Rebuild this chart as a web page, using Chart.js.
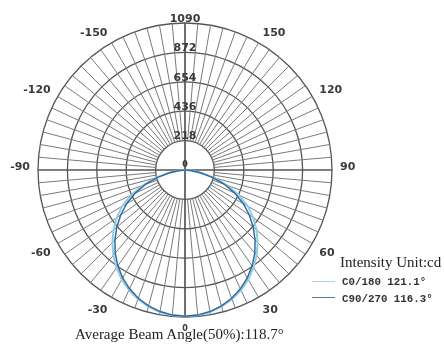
<!DOCTYPE html>
<html><head><meta charset="utf-8">
<script src="https://cdn.jsdelivr.net/npm/chart.js@4.4.0/dist/chart.umd.min.js"></script>
<style>
html,body{margin:0;padding:0;background:#fff;}
#wrap{position:relative;width:444px;height:347px;overflow:hidden;background:#fff;}
#c{position:absolute;left:0;top:0;}
.t{position:absolute;white-space:nowrap;}
.serif{font-family:"Liberation Serif","Times New Roman",serif;color:#222;}
.mono{font-family:"Liberation Mono","Courier New",monospace;font-weight:bold;font-size:10.8px;line-height:11px;color:#333;}
.sw{position:absolute;height:0;width:23px;}
</style></head><body>
<div id="wrap">
<canvas id="c" width="444" height="347"></canvas>
<div class="t serif" id="unit" style="left:340px;top:255px;font-size:15px;line-height:15px;"></div>
<div class="sw" id="sw0" style="left:312px;top:281px;border-top:1.5px solid #a9d6ea;"></div>
<div class="sw" id="sw1" style="left:312px;top:297px;border-top:1.5px solid #4f8199;"></div>
<div class="t mono" id="lg0" style="left:342px;top:277px;"></div>
<div class="t mono" id="lg1" style="left:342px;top:294px;"></div>
<div class="t serif" id="cap" style="left:75px;top:327px;font-size:15px;line-height:15px;"></div>
</div>
<script>
// ---- data ----
const gammaAngles = [0, 5, 10, 15, 20, 25, 30, 35, 40, 45, 50, 55, 60, 65, 70, 75, 80, 85, 90];
const c0_180  = [1085, 1081, 1069, 1048, 1019, 983, 938, 885, 826, 762, 692, 618, 540, 440, 335, 225, 125, 48, 4];
const c90_270 = [1085, 1080, 1066, 1043, 1012, 972, 924, 868, 805, 735, 660, 582, 500, 408, 312, 210, 115, 42, 3];
const ringValues = [218, 436, 654, 872, 1090];
const angleTickLabels = [-150, -120, -90, -60, -30, 0, 30, 60, 90, 120, 150];
const seriesNames = ['C0/180 121.1°', 'C90/270 116.3°'];
const unitLabel = 'Intensity Unit:cd';
const captionText = 'Average Beam Angle(50%):118.7°';

// radar categories: every 5°, 180 at top, going clockwise (right side = +90, bottom = 0, left = -90)
const polarCategories = [];
for (let k = 0; k < 72; k++) { polarCategories.push(180 - 5 * k); }

function seriesOnCategories(vals) {
  return polarCategories.map(a => {
    const idx = gammaAngles.indexOf(Math.abs(a));
    return idx >= 0 ? vals[idx] : 0;
  });
}

document.getElementById('unit').textContent = unitLabel;
document.getElementById('lg0').textContent = seriesNames[0];
document.getElementById('lg1').textContent = seriesNames[1];
document.getElementById('cap').textContent = captionText;

const polarDecor = {
  id: 'polarDecor',
  beforeDatasetsDraw(chart) {
    const s = chart.scales.r, ctx = chart.ctx;
    const labels = chart.data.labels;
    const rIn = s.getDistanceFromCenterForValue(ringValues[0]);
    const rOut = s.getDistanceFromCenterForValue(ringValues[ringValues.length - 1]);
    ctx.save();
    for (let i = 0; i < labels.length; i++) {
      const a = labels[i];
      const axis = (a % 90 === 0);
      const p2 = s.getPointPosition(i, rOut);
      const p1 = axis ? {x: s.xCenter, y: s.yCenter} : s.getPointPosition(i, rIn);
      ctx.lineWidth = axis ? 1.7 : 1;
      ctx.strokeStyle = axis ? '#555' : '#7a7a7a';
      ctx.beginPath(); ctx.moveTo(p1.x, p1.y); ctx.lineTo(p2.x, p2.y); ctx.stroke();
    }
    ctx.fillStyle = '#3a3a3a';
    angleTickLabels.forEach(a => {
      const i = labels.indexOf(a);
      const p = s.getPointPosition(i, rOut + 8);
      const dx = p.x - s.xCenter, dy = p.y - s.yCenter;
      ctx.font = (a === 0 ? 'bold 8px' : 'bold 11px') + ' "DejaVu Sans"';
      ctx.textAlign = dx > 1 ? 'left' : (dx < -1 ? 'right' : 'center');
      ctx.textBaseline = dy > 1 ? 'top' : 'alphabetic';
      ctx.fillText(String(a), p.x, p.y);
    });
    ctx.font = 'bold 11px "DejaVu Sans"';
    ctx.textAlign = 'center'; ctx.textBaseline = 'middle';
    ringValues.forEach(v => {
      const d = s.getDistanceFromCenterForValue(v);
      ctx.fillText(String(v), s.xCenter, s.yCenter - d - 4);
    });
    ctx.font = 'bold 8px "DejaVu Sans"';
    ctx.fillText('0', s.xCenter, s.yCenter - 5);
    ctx.restore();
  }
};

new Chart(document.getElementById('c'), {
  type: 'radar',
  data: {
    labels: polarCategories,
    datasets: [
      { label: seriesNames[0], data: seriesOnCategories(c0_180), borderColor: '#93cde3', borderWidth: 2, fill: false, pointRadius: 0, tension: 0, order: 2 },
      { label: seriesNames[1], data: seriesOnCategories(c90_270), borderColor: '#336aa0', borderWidth: 1.5, fill: false, pointRadius: 0, tension: 0, order: 1 }
    ]
  },
  options: {
    responsive: false,
    devicePixelRatio: 1,
    animation: false,
    layout: { padding: { left: 38, top: 23, right: 112, bottom: 30 } },
    plugins: { legend: { display: false }, tooltip: { enabled: false } },
    scales: {
      r: {
        min: 0, max: 1090, startAngle: 0,
        ticks: { display: false, stepSize: 218 },
        pointLabels: { display: false },
        angleLines: { display: false },
        grid: { circular: true, color: '#555', lineWidth: 1.3 }
      }
    }
  },
  plugins: [polarDecor]
});
</script>
</body></html>
